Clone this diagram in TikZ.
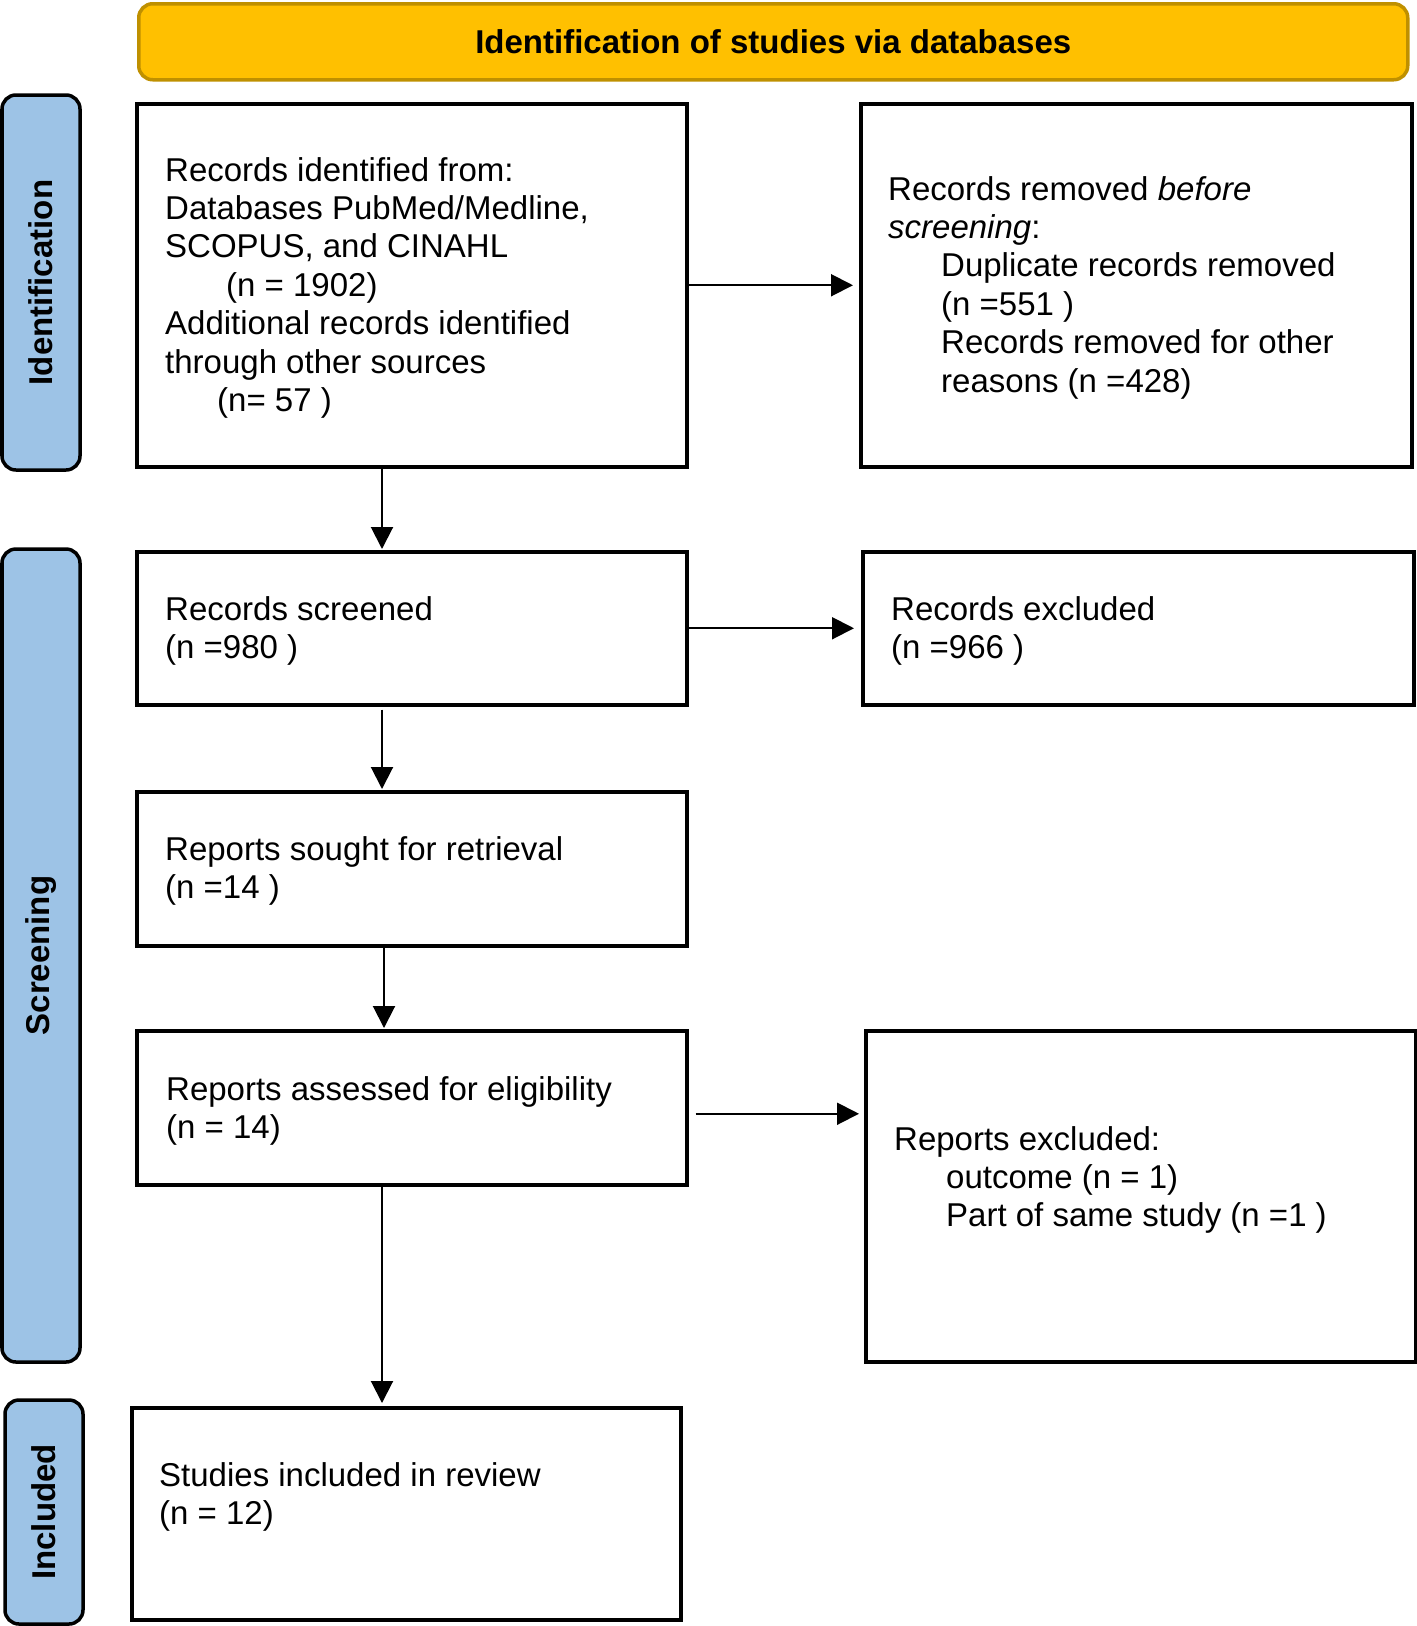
\documentclass[tikz,border=0pt]{standalone}
\usepackage{fontspec}
\setmainfont{Liberation Sans}
\usetikzlibrary{arrows.meta,calc}
\definecolor{hdrfill}{HTML}{FFC000}
\definecolor{hdrline}{HTML}{BF9000}
\definecolor{sidefill}{HTML}{9DC3E6}
\begin{document}
\begin{tikzpicture}[x=1pt,y=-1pt,
  box/.style={draw=black, line width=3.5pt, inner sep=0pt, anchor=north west},
  hdr/.style={draw=hdrline, fill=hdrfill, line width=3.5pt, rounded corners=14pt, inner sep=0pt, anchor=north west, font=\bfseries\fontsize{33}{38}\selectfont},
  side/.style={draw=black, fill=sidefill, line width=3.5pt, rounded corners=14pt, rotate=90, inner sep=0pt, minimum height=78pt, font=\bfseries\fontsize{33}{38}\selectfont},
  txt/.style={anchor=north west, inner sep=0pt, align=left, font=\fontsize{33}{38.4}\selectfont},
  arr/.style={line width=2pt, -{Triangle[length=22pt,width=22pt]}}]
\useasboundingbox (0,0) rectangle (1417,1626);

% header
\node[hdr, minimum width=1269pt, minimum height=76pt] (hd) at (137,2) {Identification of studies via databases};

% side labels
\node[side, minimum width=375pt] (sid) at (41,282.5) {Identification};
\node[side, minimum width=813pt] (ssc) at (41,955.5) {Screening};
\node[side, minimum width=224pt] (sin) at (44,1512) {Included};

% boxes
\node[box, minimum width=550pt, minimum height=363pt] (b1) at (135,102) {};
\node[box, minimum width=551pt, minimum height=363pt] (b2) at (859,102) {};
\node[box, minimum width=550pt, minimum height=153pt] (b3) at (135,550) {};
\node[box, minimum width=551pt, minimum height=153pt] (b4) at (861,550) {};
\node[box, minimum width=550pt, minimum height=154pt] (b5) at (135,790) {};
\node[box, minimum width=550pt, minimum height=154pt] (b6) at (135,1029) {};
\node[box, minimum width=550pt, minimum height=331pt] (b7) at (864,1029) {};
\node[box, minimum width=549pt, minimum height=212pt] (b8) at (130,1406) {};

% texts
\node[txt] (t1) at (165,157) {Records identified from:\\
Databases PubMed/Medline,\\
SCOPUS, and CINAHL\\
\hspace*{61pt}(n = 1902)\\
Additional records identified\\
through other sources\\
\hspace*{52pt}(n= 57 )};
\node[txt] (t2) at (888,176) {Records removed \textit{before}\\
\textit{screening}:\\
\hspace*{53pt}Duplicate records removed\\
\hspace*{53pt}(n =551 )\\
\hspace*{53pt}Records removed for other\\
\hspace*{53pt}reasons (n =428)};
\node[txt] (t3) at (165,596) {Records screened\\(n =980 )};
\node[txt] (t4) at (891,596) {Records excluded\\(n =966 )};
\node[txt] (t5) at (165,836) {Reports sought for retrieval\\(n =14 )};
\node[txt] (t6) at (166,1076) {Reports assessed for eligibility\\(n = 14)};
\node[txt] (t7) at (894,1126) {Reports excluded:\\
\hspace*{52pt}outcome (n = 1)\\
\hspace*{52pt}Part of same study (n =1 )};
\node[txt] (t8) at (159,1462) {Studies included in review\\(n = 12)};

% connectors
\coordinate (va) at (382,0);
\coordinate (vb) at (384,0);
\coordinate (h6) at ([xshift=7pt,yshift=-6pt]b6.east);
\draw[arr, shorten >=6pt] (b1.east) -- (b2.west);
\draw[arr, shorten >=7pt] (b3.east) -- (b4.west);
\draw[arr, shorten >=5pt] (h6) -- (h6 -| b7.west);
\draw[arr, shorten >=1pt] (b1.south -| va) -- (b3.north -| va);
\draw[arr, shorten <=3pt, shorten >=1pt] (b3.south -| va) -- (b5.north -| va);
\draw[arr, shorten >=1pt] (b5.south -| vb) -- (b6.north -| vb);
\draw[arr, shorten >=3pt] (b6.south -| va) -- (b8.north -| va);
\end{tikzpicture}
\end{document}
